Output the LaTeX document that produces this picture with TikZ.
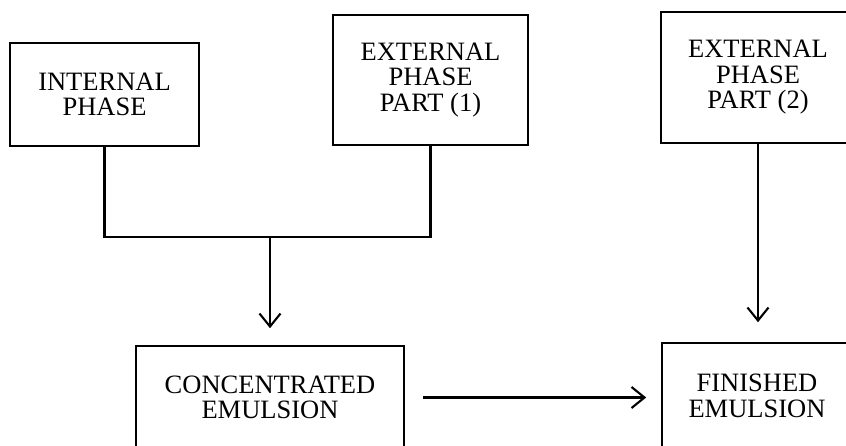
\documentclass[tikz,border=0pt]{standalone}
\usepackage{fontspec}
\setmainfont{Liberation Serif}
\usetikzlibrary{arrows.meta}
\begin{document}
\begin{tikzpicture}[x=1pt,y=-1pt,
  box/.style={draw,line width=1.6pt,align=center,inner sep=0pt,
    font=\fontsize{26.5}{25.5}\selectfont},
  conn/.style={line width=2.3pt},
  arr/.style={conn,-{Straight Barb[length=13pt,width=21pt,line width=2.1pt]}}]
\useasboundingbox (0,0) rectangle (846,445);
\clip (0,0) rectangle (846,445);
\node[box,minimum width=189pt,minimum height=103pt] (int) at (104.5,94.5) {INTERNAL\\PHASE};
\node[box,minimum width=195pt,minimum height=130pt] (ext1) at (430.5,80) {EXTERNAL\\PHASE\\PART (1)};
\node[box,minimum width=194pt,minimum height=131pt] (ext2) at (758,77.5) {EXTERNAL\\PHASE\\PART (2)};
\node[box,minimum width=268pt,minimum height=103pt] (conc) at (270,397.5) {CONCENTRATED\\EMULSION};
\node[box,minimum width=190pt,minimum height=106pt] (fin) at (757,396) {FINISHED\\EMULSION};
\coordinate (m) at (270,237);
\draw[conn,line join=miter] (int.south) -- (int.south |- m) -- (ext1.south |- m) -- (ext1.south);
\draw[arr,shorten >=17pt] (m) -- (conc.north);
\draw[arr,shorten >=20pt] (ext2.south) -- (ext2.south |- fin.north);
\draw[arr,shorten <=18pt,shorten >=15pt] (conc.east) -- (conc.east -| fin.west);
\end{tikzpicture}
\end{document}
